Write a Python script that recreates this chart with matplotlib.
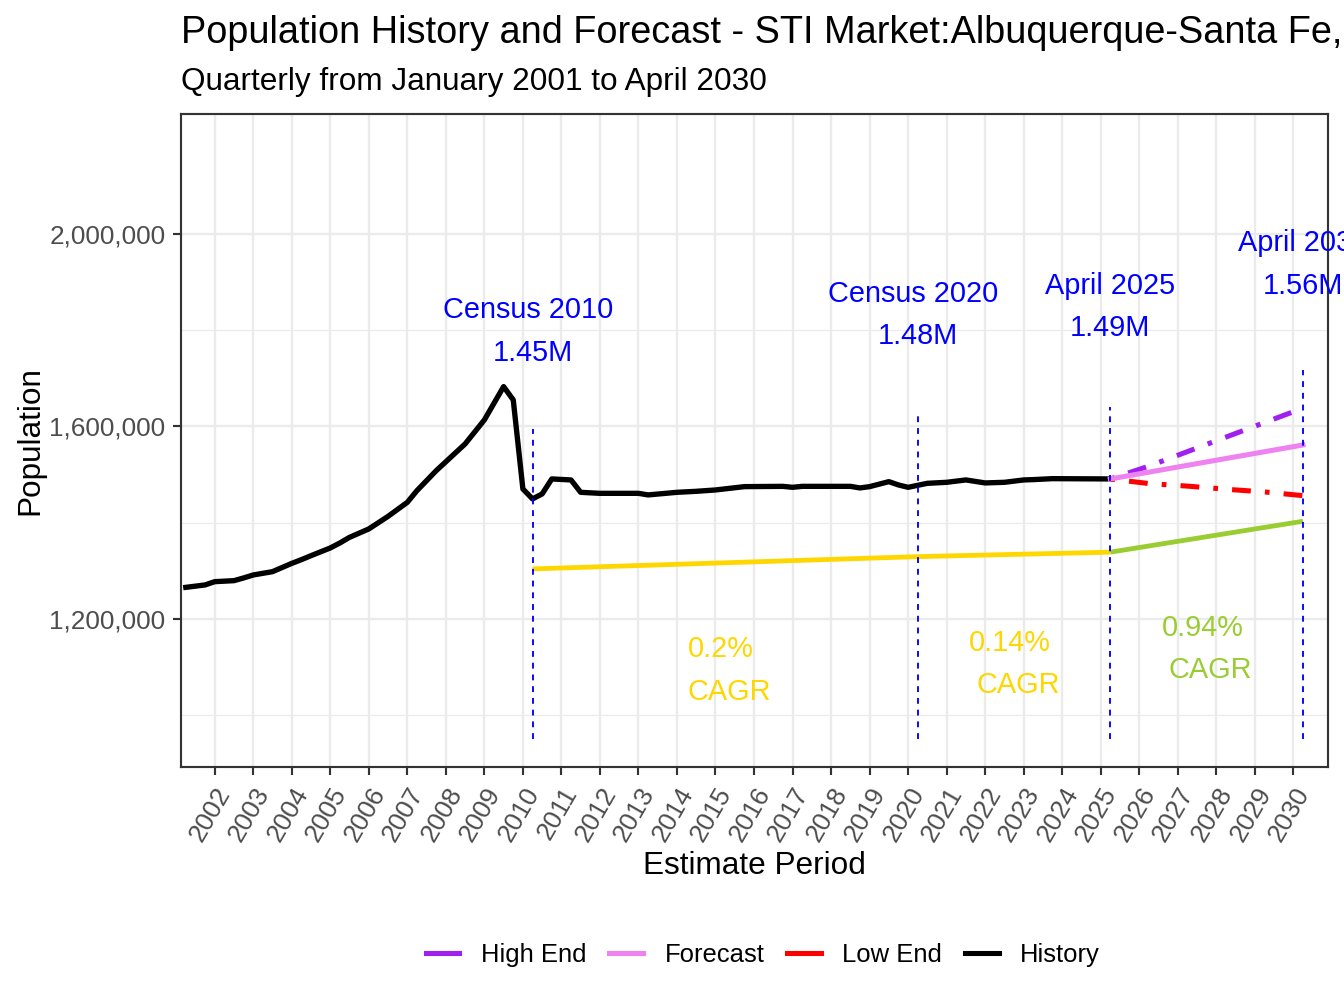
import numpy as np
import matplotlib.pyplot as plt
from matplotlib.lines import Line2D

plt.rcParams['font.family'] = ['Liberation Sans', 'DejaVu Sans']
plt.rcParams['lines.scale_dashes'] = False

# history, quarterly (decimal year, population)
hist_year = [2001.25, 2001.75, 2002.0, 2002.5, 2002.75, 2003.0, 2003.5, 2004.0, 2004.25,
             2004.5, 2005.0, 2005.25, 2005.5, 2006.0, 2006.5, 2007.0, 2007.25, 2007.75,
             2008.5, 2009.0, 2009.5, 2009.75, 2010.0, 2010.25, 2010.5, 2010.75, 2011.25,
             2011.5, 2012.0, 2013.0, 2013.25, 2014.0, 2014.5, 2015.0, 2015.75, 2016.75,
             2017.0, 2017.25, 2018.5, 2018.75, 2019.0, 2019.5, 2019.75, 2020.0, 2020.5,
             2021.0, 2021.5, 2022.0, 2022.5, 2023.0, 2023.25, 2023.75, 2025.25]
hist_pop = [1265700, 1270700, 1277500, 1279600, 1285200, 1291400, 1298300, 1315500, 1323200,
            1331500, 1347500, 1357900, 1369600, 1387000, 1413200, 1442300, 1466600, 1508100,
            1563600, 1613500, 1682700, 1655100, 1470100, 1449400, 1459800, 1490900, 1488800,
            1463100, 1461000, 1461000, 1457700, 1463100, 1465200, 1468000, 1474900, 1475500,
            1473500, 1475500, 1475500, 1472200, 1474900, 1485300, 1478400, 1473500, 1481800,
            1483900, 1488800, 1482600, 1483900, 1488800, 1489500, 1491500, 1490900]

# forecast scenarios
fc_year = [2025.25, 2026.25, 2027.25, 2028.25, 2029.25, 2030.25]
forecast = [1490900, 1505000, 1519200, 1533300, 1547400, 1561500]
high_end = [1490900, 1517500, 1547600, 1577800, 1607900, 1638000]
low_end = [1490900, 1481300, 1476000, 1469500, 1463900, 1456200]

# CAGR reference line
cagr_year = [2010.25, 2020.25, 2025.25, 2030.25]
cagr_pop = [1304000, 1329500, 1338800, 1403000]
cagr_labels = ["0.2%", "0.14%", "0.94%"]

mark_year = [2010.25, 2020.25, 2025.25, 2030.25]
mark_names = ["Census 2010", "Census 2020", "April 2025", "April 2030"]

GOLD = "#FFD700"
GREEN = "#9ACD32"
PURPLE = "#A020F0"
VIOLET = "#EE82EE"
GRID = "#EBEBEB"

fig = plt.figure(figsize=(7, 5.25), dpi=192)
ax = fig.add_axes([181/1344, 1-767/1008, 1147/1344, 653/1008])

# grid
years = np.arange(2002, 2031)
ax.set_xticks(years)
ax.set_xticklabels([str(y) for y in years])
ax.set_yticks([1200000, 1600000, 2000000])
ax.set_yticks([1000000, 1400000, 1800000], minor=True)
ax.set_yticklabels(["1,200,000", "1,600,000", "2,000,000"])
ax.grid(True, which='major', color=GRID, lw=0.9)
ax.grid(True, which='minor', axis='y', color=GRID, lw=0.45)
ax.set_axisbelow(True)

# CAGR segments
ax.plot(cagr_year[:3], cagr_pop[:3], color=GOLD, lw=1.8, solid_capstyle='butt')
ax.plot(cagr_year[2:], cagr_pop[2:], color=GREEN, lw=1.8, solid_capstyle='butt')

ax.plot(hist_year, hist_pop, color='black', lw=2.0)
dotdash = (0, (1.76, 5.29, 7.05, 5.29))
ax.plot(fc_year, high_end, color=PURPLE, lw=1.9, linestyle=dotdash)
ax.plot(fc_year, low_end, color='red', lw=1.9, linestyle=dotdash)
ax.plot(fc_year, forecast, color=VIOLET, lw=1.9)

# markers: vertical dashed lines and labels
mark_pop = np.interp(mark_year, hist_year + fc_year[1:], hist_pop + forecast[1:])
ax.vlines(mark_year, 950000, np.array(mark_pop) * 1.1, colors='blue', lw=0.7,
          linestyles=(0, (2.2, 2.2)))
ann = dict(textcoords='offset points', ha='center', va='center', fontsize=10.85,
           color='blue', annotation_clip=False)
for i in range(len(mark_year)):
    shift = -1.6 if mark_names[i].startswith("Census") else 0
    yy = mark_pop[i] * 1.24
    ax.annotate(mark_names[i], (mark_year[i], yy), xytext=(shift, 7.9), **ann)
    ax.annotate("%.2fM" % (mark_pop[i] / 1e6), (mark_year[i], yy), xytext=(0, -7.9), **ann)

for i in range(len(cagr_labels)):
    xm = (cagr_year[i] + cagr_year[i+1]) / 2
    ym = (cagr_pop[i] + cagr_pop[i+1]) / 2 * 0.83
    c = GREEN if i == 2 else GOLD
    ax.annotate(cagr_labels[i], (xm, ym), xytext=(-1.5, 7.9), **{**ann, 'color': c})
    ax.annotate("CAGR", (xm, ym), xytext=(1.5, -7.9), **{**ann, 'color': c})

ax.set_xlim(2001.125, 2030.90)
ax.set_ylim(892500, 2249000)

for s in ax.spines.values():
    s.set_color('#333333')
    s.set_linewidth(0.8)
ax.tick_params(which='major', length=2.9, width=0.8, color='#333333', labelsize=9.8,
               labelcolor='#4D4D4D', pad=3)
ax.tick_params(which='minor', length=0)
plt.setp(ax.get_xticklabels(), rotation=60, ha='right', va='top', rotation_mode='anchor')

ax.set_xlabel("Estimate Period", fontsize=11.8)
ax.xaxis.set_label_coords(0.5, (767-866)/653)
ax.xaxis.label.set_va('center')
ax.set_ylabel("Population", fontsize=11.8)
ax.yaxis.set_label_coords((30-181)/1147, 0.5)
ax.yaxis.label.set_va('center')

fig.text(181/1344, 1-33/1008, "Population History and Forecast - STI Market:Albuquerque-Santa Fe,",
         fontsize=14.2, ha='left', va='center')
fig.text(181/1344, 1-82/1008, "Quarterly from January 2001 to April 2030",
         fontsize=11.8, ha='left', va='center')

handles = [Line2D([], [], color=PURPLE, lw=1.9),
           Line2D([], [], color=VIOLET, lw=1.9),
           Line2D([], [], color='red', lw=1.9),
           Line2D([], [], color='black', lw=1.9)]
fig.legend(handles, ["High End", "Forecast", "Low End", "History"], loc='center',
           bbox_to_anchor=(763/1344, 1-955/1008), ncol=4, frameon=False, fontsize=9.6,
           handlelength=1.3, handletextpad=0.85, columnspacing=0.9)

plt.savefig("out.png", dpi=192)
